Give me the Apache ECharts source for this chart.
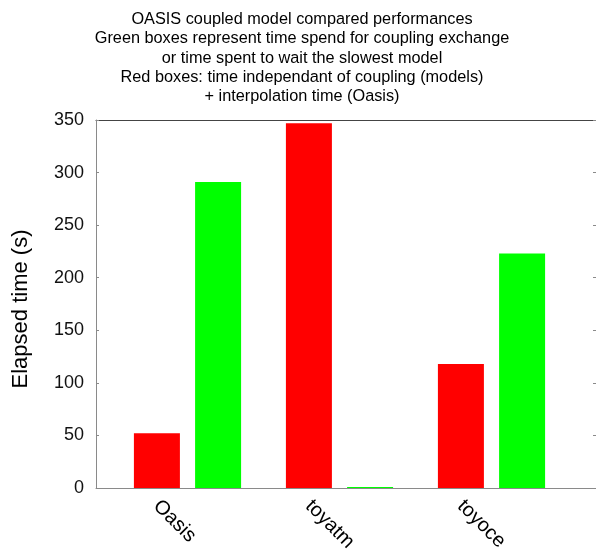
<!DOCTYPE html>
<html>
<head>
<meta charset="utf-8">
<script src="https://cdn.jsdelivr.net/npm/echarts@6/dist/echarts.min.js"></script>
<style>
html,body{margin:0;padding:0;background:#fff;}
#c{width:596px;height:556px;}
</style>
</head>
<body>
<div id="c"></div>
<script>
const titleLines = [
  'OASIS coupled model compared performances',
  'Green boxes represent time spend for coupling exchange',
  'or time spent to wait the slowest model',
  'Red boxes: time independant of coupling (models)',
  '+ interpolation time (Oasis)'
];
const categories = ['Oasis', 'toyatm', 'toyoce'];
const redValues = [52, 347, 118];
const greenValues = [291, 1, 223];
const yTicks = [0, 50, 100, 150, 200, 250, 300, 350];
const yName = 'Elapsed time (s)';

const FONT = 'Liberation Sans, Arial, Helvetica, sans-serif';
const yMin = yTicks[0], yMax = yTicks[yTicks.length - 1], yStep = yTicks[1] - yTicks[0];

const gridBase = {top: 120, height: 368, show: false, containLabel: false, outerBoundsMode: 'none'};

const chart = echarts.init(document.getElementById('c'), null, {renderer: 'canvas'});
chart.setOption({
  animation: false,
  backgroundColor: '#fff',
  title: {
    text: titleLines.join('\n'),
    left: 297, top: 5, textAlign: 'center',
    textStyle: {fontFamily: FONT, fontSize: 16.3, fontWeight: 'normal', color: '#000', lineHeight: 19.3}
  },
  grid: [
    Object.assign({left: 96, width: 504}, gridBase),
    Object.assign({left: 111.5, width: 456}, gridBase),
    Object.assign({left: 80.5, width: 456}, gridBase)
  ],
  xAxis: [
    {gridIndex: 0, type: 'value', min: 0, max: 1, position: 'bottom',
     axisLine: {show: true, onZero: false, lineStyle: {color: '#8a8a8a', width: 1}},
     axisTick: {show: false}, axisLabel: {show: false}, splitLine: {show: false}},
    {gridIndex: 0, type: 'value', min: 0, max: 1, position: 'top',
     axisLine: {show: true, onZero: false, lineStyle: {color: '#444', width: 1}},
     axisTick: {show: false}, axisLabel: {show: false}, splitLine: {show: false}},
    {gridIndex: 1, type: 'category', data: categories, boundaryGap: true,
     axisLine: {show: false, onZero: false}, axisTick: {show: false}, axisLabel: {show: false}, splitLine: {show: false}},
    {gridIndex: 2, type: 'category', data: categories, boundaryGap: true,
     axisLine: {show: false, onZero: false}, axisTick: {show: false}, splitLine: {show: false},
     axisLabel: {show: true, rotate: -45, margin: 15, interval: 0,
       fontFamily: FONT, fontSize: 20, color: '#000'}}
  ],
  yAxis: [
    {gridIndex: 0, type: 'value', min: yMin, max: yMax, interval: yStep, position: 'left',
     axisLine: {show: true, onZero: false, lineStyle: {color: '#8a8a8a', width: 1}},
     axisTick: {show: true, inside: true, length: 3, lineStyle: {color: '#8a8a8a'}},
     axisLabel: {show: true, margin: 12, fontFamily: FONT, fontSize: 18, color: '#111'},
     splitLine: {show: false},
     name: yName, nameLocation: 'middle', nameGap: 64, nameRotate: 90,
     nameTextStyle: {fontFamily: FONT, fontSize: 22, color: '#000', padding: [0, 10, 0, 0]}},
    {gridIndex: 0, type: 'value', min: yMin, max: yMax, interval: yStep, position: 'right',
     axisLine: {show: false, onZero: false},
     axisTick: {show: true, inside: true, length: 7, lineStyle: {color: '#8a8a8a'}},
     axisLabel: {show: false}, splitLine: {show: false}},
    {gridIndex: 1, type: 'value', min: yMin, max: yMax, show: false},
    {gridIndex: 2, type: 'value', min: yMin, max: yMax, show: false}
  ],
  series: [
    {type: 'bar', name: 'red', xAxisIndex: 2, yAxisIndex: 2, data: redValues,
     barWidth: 46, barGap: '33%', itemStyle: {color: '#ff0000'}},
    {type: 'bar', name: 'green', xAxisIndex: 2, yAxisIndex: 2, data: greenValues,
     barWidth: 46, barGap: '33%', itemStyle: {color: '#00ff00'}}
  ]
});
</script>
</body>
</html>
